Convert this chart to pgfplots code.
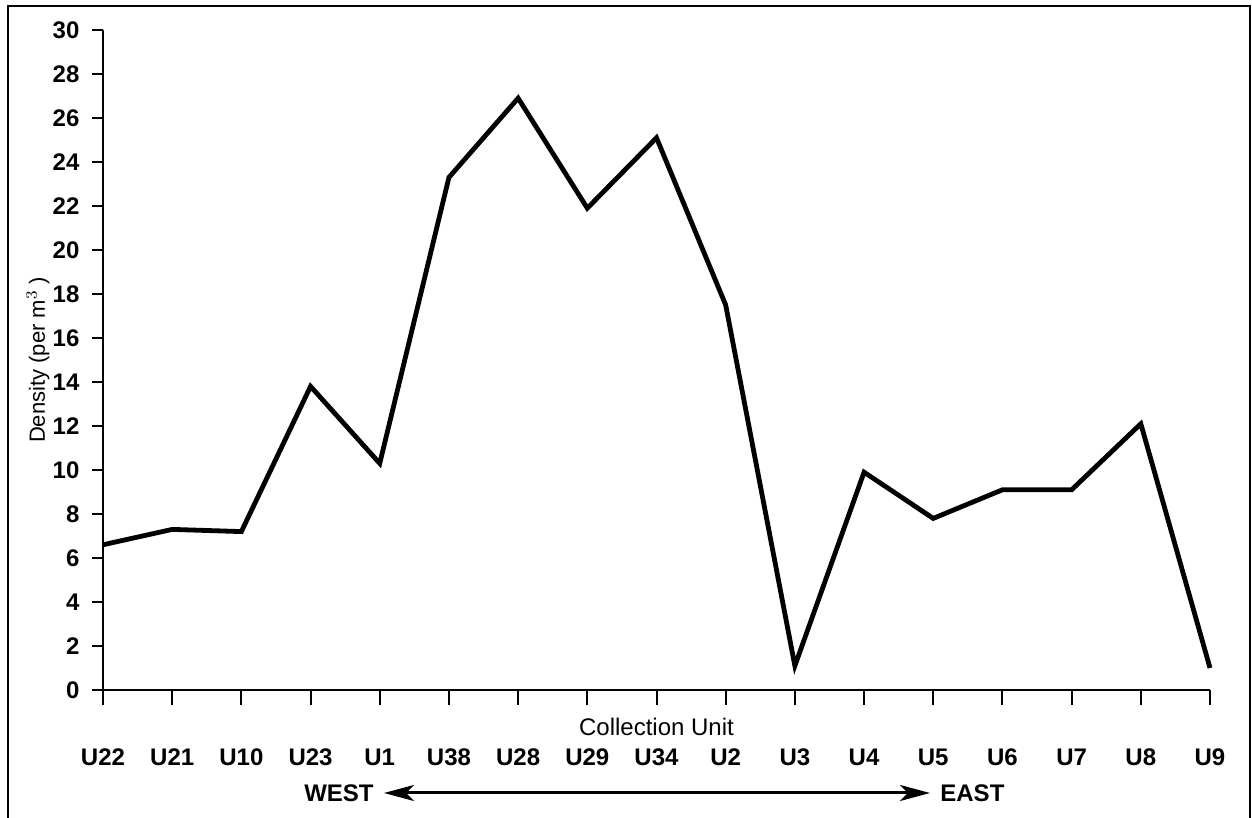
\documentclass[border=0pt]{standalone}
\usepackage{pgfplots}
\pgfplotsset{compat=1.18}
\usepackage{fontspec}
\setmainfont{Liberation Sans}
\usetikzlibrary{arrows.meta}

\begin{document}
\begin{tikzpicture}[x=1pt,y=1pt]
  \useasboundingbox (0,0) rectangle (626,409);
  % outer frame (bottom edge is cut off in the scan)
  \draw[line width=1pt] (4,0) -- (4,406) -- (625,406) -- (625,0);
  \begin{axis}[
    at={(51.5pt,64pt)}, anchor=origin,
    scale only axis,
    width=553.5pt, height=330pt,
    xmin=0, xmax=16,
    ymin=0, ymax=30,
    axis lines=left,
    axis line style={line width=1.4pt, -},
    tick align=outside,
    xtick=data,
    xticklabels={U22,U21,U10,U23,U1,U38,U28,U29,U34,U2,U3,U4,U5,U6,U7,U8,U9},
    ytick={0,2,...,30},
    tick style={line width=1pt, black},
    xtick style={/pgfplots/major tick length=7.5pt},
    ytick style={/pgfplots/major tick length=5.5pt},
    /pgf/number format/assume math mode=true,
    ticklabel style={font=\fontsize{12}{14}\selectfont\bfseries},
    xticklabel style={anchor=center, yshift=-29.5pt},
    yticklabel style={anchor=east, xshift=-4pt},
    xlabel={Collection Unit},
    xlabel style={font=\fontsize{12}{14}\selectfont, at={(axis description cs:0.5,0)}, anchor=center, yshift=-18.5pt},
    ylabel={Density (per m$^3$ )},
    ylabel style={font=\fontsize{11}{13}\selectfont, at={(axis description cs:-0.0587,0.5)}, anchor=center},
    clip=false,
  ]
    \addplot[black, line width=2.4pt, line join=miter, mark=none] coordinates {
      (0,6.6) (1,7.3) (2,7.2) (3,13.8) (4,10.3) (5,23.3) (6,26.9) (7,21.9) (8,25.1)
      (9,17.5) (10,1.1) (11,9.9) (12,7.8) (13,9.1) (14,9.1) (15,12.1) (16,1.0)
    };
  \end{axis}
  % direction arrow
  \draw[line width=1.5pt, {Stealth[length=15pt,width=8pt,inset=4pt]}-{Stealth[length=15pt,width=8pt,inset=4pt]}] (192,12.5) -- (465,12.5);
  \node[anchor=east, font=\fontsize{12}{14}\selectfont\bfseries, inner sep=0pt] at (187,12.5) {WEST};
  \node[anchor=west, font=\fontsize{12}{14}\selectfont\bfseries, inner sep=0pt] at (470,12.5) {EAST};
\end{tikzpicture}
\end{document}
